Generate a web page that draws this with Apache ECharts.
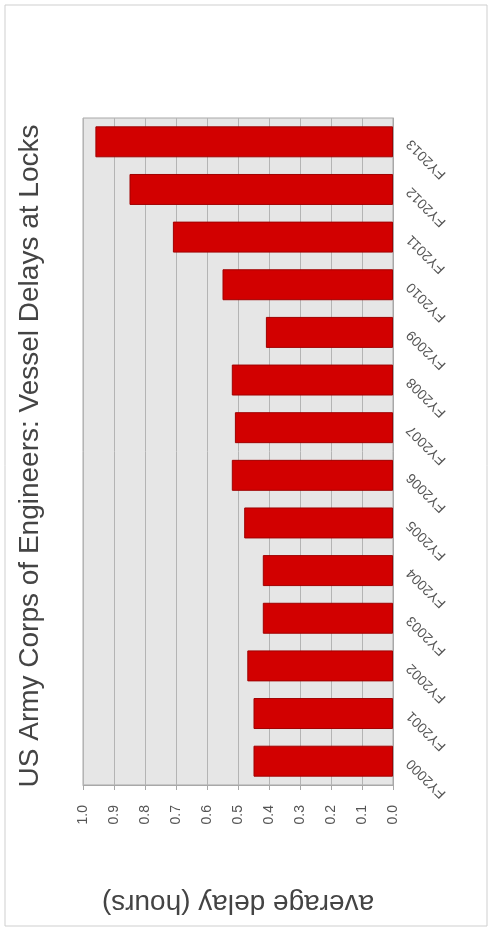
<!DOCTYPE html>
<html>
<head>
<meta charset="utf-8">
<script src="https://cdn.jsdelivr.net/npm/echarts@6/dist/echarts.min.js"></script>
<style>
  html, body { margin: 0; padding: 0; background: #fff; }
  #chart { width: 491px; height: 930px; }
</style>
</head>
<body>
<div id="chart"></div>
<script>
const categories = ['FY2000','FY2001','FY2002','FY2003','FY2004','FY2005','FY2006','FY2007','FY2008','FY2009','FY2010','FY2011','FY2012','FY2013'];
const delays = [0.45, 0.45, 0.47, 0.42, 0.42, 0.48, 0.52, 0.51, 0.52, 0.41, 0.55, 0.71, 0.85, 0.96];
const titleText = 'US Army Corps of Engineers: Vessel Delays at Locks';
const valueAxisName = 'average delay (hours)';
const valueMin = 0, valueMax = 1, valueStep = 0.1;

const FONT = '"Liberation Sans", Arial, sans-serif';
const chart = echarts.init(document.getElementById('chart'), null, { renderer: 'canvas' });
chart.setOption({
  backgroundColor: '#ffffff',
  animation: false,
  textStyle: { fontFamily: FONT },
  graphic: [
    { type: 'rect', z: -10, shape: { x: 5, y: 5, width: 482, height: 921 },
      style: { fill: 'none', stroke: '#cfcfcf', lineWidth: 1 } },
    { type: 'text', x: 30, y: 456, rotation: Math.PI / 2,
      style: { text: titleText, fontSize: 28, fontFamily: FONT, fill: '#444444', align: 'center', verticalAlign: 'middle' } }
  ],
  grid: {
    left: 83, right: 98, top: 118, bottom: 145,
    show: true, backgroundColor: '#e6e6e6', borderColor: '#a8a8a8', borderWidth: 1,
    containLabel: false, outerBoundsMode: 'none'
  },
  xAxis: {
    type: 'value', inverse: true, position: 'bottom',
    min: valueMin, max: valueMax, interval: valueStep,
    axisLine: { show: true, lineStyle: { color: '#a8a8a8' } },
    axisTick: { show: true, length: 5, lineStyle: { color: '#a8a8a8' } },
    splitLine: { show: true, lineStyle: { color: '#b4b4b4', width: 1 } },
    axisLabel: { rotate: 90, margin: 20, fontSize: 14, color: '#555555', fontFamily: FONT,
      formatter: v => v.toFixed(1) },
    name: valueAxisName, nameLocation: 'middle', nameRotate: 180, nameGap: 104,
    nameTextStyle: { fontSize: 28, color: '#444444', fontFamily: FONT }
  },
  yAxis: {
    type: 'category', position: 'right', data: categories,
    axisLine: { show: true, lineStyle: { color: '#a8a8a8' } },
    axisTick: { show: false },
    splitLine: { show: false },
    axisLabel: { rotate: 135, margin: 16, fontSize: 14, color: '#555555', fontFamily: FONT }
  },
  series: [{
    type: 'bar', data: delays, barCategoryGap: '35%',
    itemStyle: { color: '#d20000', borderColor: '#a00000', borderWidth: 1 }
  }]
});
</script>
</body>
</html>
